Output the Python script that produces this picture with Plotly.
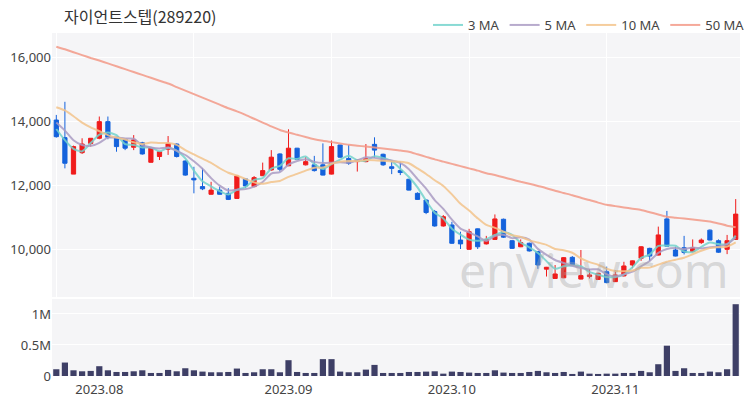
import pandas as pd
import plotly.graph_objects as go

# ---- categories (trading days, KRX holidays removed) ----
holidays = ['2023-08-15', '2023-09-28', '2023-09-29', '2023-10-02', '2023-10-03', '2023-10-09']
dates = [d.strftime('%Y-%m-%d') for d in pd.bdate_range('2023-07-25', '2023-11-21')
         if d.strftime('%Y-%m-%d') not in holidays]

month_ticks = ['2023-08-01', '2023-09-01', '2023-10-04', '2023-11-01']
month_labels = ['2023.08', '2023.09', '2023.10', '2023.11']

# ---- OHLC ----
opens = [14030, 13480, 12340, 13010, 13300, 13460, 13980, 13490, 13430, 13180,
         13320, 12710, 12890, 13120, 13280, 12750, 12210, 11950, 11710, 11840,
         11740, 11580, 12190, 11950, 12290, 12470, 12970, 12600, 13150, 12630,
         12630, 12630, 12340, 13250, 12830, 12730, 12730, 13270, 12960, 12570,
         12450, 12180, 11740, 11530, 11170, 10720, 10750, 10280, 9990, 10630,
         10160, 10300, 10930, 10260, 10070, 10180, 9920, 9370, 9080, 9100,
         9740, 9060, 9140, 9050, 9290, 8980, 9160, 9500, 9710, 10020,
         9810, 10940, 9970, 10040, 9920, 10200, 10590, 10260, 9990, 10300]
highs = [14190, 14600, 13230, 13460, 13460, 14140, 14140, 13500, 13440, 13560,
         13350, 13170, 13060, 13530, 13300, 12770, 12570, 12520, 12100, 11950,
         11900, 12300, 12210, 12280, 12700, 13090, 12990, 13740, 13160, 12870,
         12910, 13300, 13390, 13260, 13250, 12790, 13280, 13490, 12980, 12730,
         12730, 12190, 11770, 11550, 11220, 11060, 10850, 10540, 10630, 10640,
         10410, 11080, 10950, 10280, 10300, 10200, 9930, 9440, 9500, 9750,
         9780, 9970, 9370, 9260, 9450, 9340, 9600, 9640, 10090, 10040,
         10700, 11190, 10070, 10410, 10300, 10330, 10610, 10300, 10440, 11560]
lows = [13480, 12520, 12340, 12970, 13200, 13430, 13430, 13040, 13090, 13090,
        12950, 12700, 12780, 12940, 12860, 12290, 11740, 11840, 11700, 11700,
        11530, 11570, 11900, 11930, 12280, 12450, 12420, 12590, 12790, 12610,
        12420, 12300, 12330, 12850, 12630, 12420, 12710, 12850, 12600, 12340,
        12310, 11830, 11540, 11090, 10700, 10700, 10160, 10000, 9980, 10000,
        10140, 10290, 10350, 10000, 10060, 9920, 9380, 9140, 9070, 9090,
        9490, 9050, 9080, 9040, 8930, 8970, 9140, 9400, 9630, 9630,
        9800, 10080, 9770, 9830, 9900, 10160, 10270, 9880, 9840, 10290]
closes = [13510, 12680, 13200, 13280, 13460, 13980, 13490, 13200, 13150, 13410,
          12970, 13150, 13040, 13300, 12890, 12310, 12160, 11880, 11840, 11710,
          11550, 12280, 11970, 12230, 12450, 12870, 12490, 13150, 12800, 12730,
          12450, 12310, 13200, 12870, 12680, 12780, 12820, 13090, 12630, 12520,
          12390, 11840, 11550, 11140, 10720, 11010, 10180, 10160, 10540, 10070,
          10300, 10940, 10370, 10020, 10200, 9940, 9500, 9430, 9220, 9730,
          9500, 9170, 9190, 9240, 8950, 9190, 9470, 9630, 10070, 9780,
          10440, 10090, 9780, 9890, 10040, 10280, 10280, 9900, 10260, 11090]

# ---- moving averages ----
ma3 = [13750, 13400, 13128, 13052, 13312, 13573, 13642, 13556, 13278, 13250,
       13174, 13174, 13052, 13163, 13076, 12833, 12451, 12115, 11958, 11809,
       11701, 11847, 11934, 12160, 12215, 12514, 12601, 12834, 12813, 12892,
       12660, 12497, 12653, 12792, 12913, 12774, 12760, 12899, 12847, 12747,
       12510, 12250, 11927, 11510, 11135, 10955, 10635, 10448, 10292, 10257,
       10306, 10437, 10535, 10441, 10195, 10052, 9878, 9621, 9382, 9458,
       9483, 9465, 9285, 9198, 9125, 9125, 9201, 9427, 9722, 9826,
       10097, 10104, 10104, 9920, 9903, 10069, 10201, 10153, 10146, 10417]
ma5 = [13950, 13700, 13400, 13250, 13225, 13319, 13481, 13481, 13454, 13444,
       13242, 13173, 13142, 13173, 13069, 12938, 12740, 12506, 12215, 11979,
       11827, 11852, 11871, 11948, 12096, 12358, 12400, 12636, 12750, 12806,
       12723, 12688, 12698, 12711, 12700, 12767, 12869, 12848, 12800, 12769,
       12690, 12494, 12185, 11887, 11527, 11252, 10919, 10639, 10521, 10392,
       10250, 10402, 10444, 10340, 10365, 10292, 10004, 9817, 9656, 9562,
       9475, 9408, 9360, 9365, 9208, 9146, 9206, 9294, 9460, 9627,
       9877, 10002, 10033, 9996, 10048, 10017, 10054, 10077, 10152, 10362]
ma10 = [14430, 14330, 14150, 13950, 13800, 13680, 13560, 13480, 13420, 13334,
        13280, 13327, 13312, 13314, 13256, 13090, 12956, 12824, 12694, 12524,
        12382, 12296, 12189, 12081, 12038, 12093, 12126, 12253, 12349, 12451,
        12541, 12544, 12667, 12730, 12753, 12745, 12778, 12773, 12755, 12735,
        12728, 12681, 12517, 12344, 12148, 11971, 11706, 11412, 11204, 10959,
        10751, 10660, 10542, 10430, 10378, 10271, 10203, 10130, 9998, 9964,
        9883, 9706, 9589, 9510, 9385, 9310, 9307, 9327, 9413, 9418,
        9511, 9604, 9664, 9728, 9837, 9947, 10028, 10055, 10074, 10205]
ma50 = [16320, 16240, 16150, 16060, 15970, 15890, 15800, 15710, 15620, 15530,
        15440, 15350, 15260, 15170, 15060, 14950, 14840, 14730, 14620, 14510,
        14400, 14300, 14190, 14070, 13950, 13830, 13720, 13640, 13570, 13500,
        13430, 13380, 13340, 13300, 13260, 13230, 13200, 13170, 13140, 13110,
        13080, 13040, 12960, 12880, 12800, 12730, 12660, 12590, 12520, 12450,
        12370, 12310, 12240, 12170, 12100, 12040, 11970, 11900, 11820, 11750,
        11680, 11600, 11530, 11450, 11380, 11340, 11300, 11260, 11220, 11150,
        11080, 11010, 10980, 10950, 10920, 10890, 10860, 10800, 10730, 10680]

# ---- volume ----
volumes = [109000, 217000, 92000, 76000, 82000, 158000, 92000, 65000, 65000, 76000,
           92000, 49000, 49000, 98000, 76000, 125000, 92000, 71000, 60000, 60000,
           65000, 120000, 49000, 60000, 109000, 109000, 60000, 255000, 65000, 49000,
           49000, 272000, 272000, 71000, 60000, 60000, 103000, 179000, 49000, 49000,
           49000, 65000, 65000, 71000, 76000, 38000, 71000, 65000, 55000, 49000,
           49000, 92000, 55000, 49000, 49000, 65000, 82000, 60000, 49000, 65000,
           33000, 71000, 38000, 33000, 38000, 38000, 49000, 49000, 82000, 60000,
           190000, 489000, 82000, 125000, 49000, 49000, 71000, 60000, 109000, 1158000]

RED = '#f01c1c'
BLUE = '#1462dc'
NAVY = '#3e3f66'
BG = '#f5f5f7'
FONT = 'Noto Sans, Noto Sans CJK KR, sans-serif'

fig = go.Figure()
fig.add_trace(go.Candlestick(
    x=dates, open=opens, high=highs, low=lows, close=closes,
    increasing=dict(line=dict(color=RED, width=1), fillcolor=RED),
    decreasing=dict(line=dict(color=BLUE, width=1), fillcolor=BLUE),
    showlegend=False, hoverinfo='skip', xaxis='x', yaxis='y'))

for name, vals, color in [('3 MA', ma3, '#74d3cc'), ('5 MA', ma5, '#ab9cc4'),
                          ('10 MA', ma10, '#f3c48c'), ('50 MA', ma50, '#f39a88')]:
    fig.add_trace(go.Scatter(x=dates, y=vals, mode='lines', name=name,
                             line=dict(color=color, width=2, shape='spline', smoothing=0.6),
                             opacity=0.85, hoverinfo='skip', xaxis='x', yaxis='y'))

fig.add_trace(go.Bar(x=dates, y=volumes, marker=dict(color=NAVY, line=dict(width=0)),
                     showlegend=False, hoverinfo='skip', xaxis='x2', yaxis='y2'))

fig.add_annotation(text='enView.com', xref='paper', yref='paper', x=0.788, y=0.31,
                   xanchor='center', yanchor='middle', showarrow=False,
                   font=dict(family='Noto Sans, sans-serif', size=48,
                             color='rgba(165,165,165,0.40)'))

fig.update_layout(
    width=750, height=400,
    margin=dict(l=52, r=10, t=33, b=24, autoexpand=False),
    paper_bgcolor='white', plot_bgcolor=BG,
    font=dict(family=FONT, size=13, color='#444'),
    title=dict(text='자이언트스텝(289220)', x=64 / 750, xanchor='left', y=1 - 17 / 400,
               yanchor='middle', font=dict(family='Noto Sans CJK KR, sans-serif', size=16, color='#333')),
    legend=dict(orientation='h', x=1, xanchor='right', xref='container',
                y=1 - 25 / 400, yanchor='middle', yref='container',
                font=dict(size=13, color='#444'), bgcolor='rgba(0,0,0,0)'),
    bargap=0.28,
    xaxis=dict(type='category', domain=[0, 1], anchor='y', range=[-0.5, len(dates) - 0.5],
               tickvals=dates[::16], showticklabels=False, ticks='',
               showgrid=True, gridcolor='white', gridwidth=1,
               rangeslider=dict(visible=False), zeroline=False),
    xaxis2=dict(type='category', domain=[0, 1], anchor='y2', matches='x',
                tickvals=month_ticks, ticktext=month_labels, ticks='',
                ticklabelstandoff=4, showgrid=False, zeroline=False),
    yaxis=dict(domain=[0.2303, 1], range=[8500, 16750], tickvals=[10000, 12000, 14000, 16000],
               tickformat=',', showgrid=True, gridcolor='white', zeroline=False, ticks=''),
    yaxis2=dict(domain=[0, 0.2245], range=[0, 1.242e6], tickvals=[0, 5e5, 1e6],
                ticktext=['0', '0.5M', '1M'], showgrid=True, gridcolor='white',
                zeroline=False, ticks=''),
)

fig.write_html('out.html', config={'displayModeBar': False},
               post_script="document.body.style.margin='0';")
